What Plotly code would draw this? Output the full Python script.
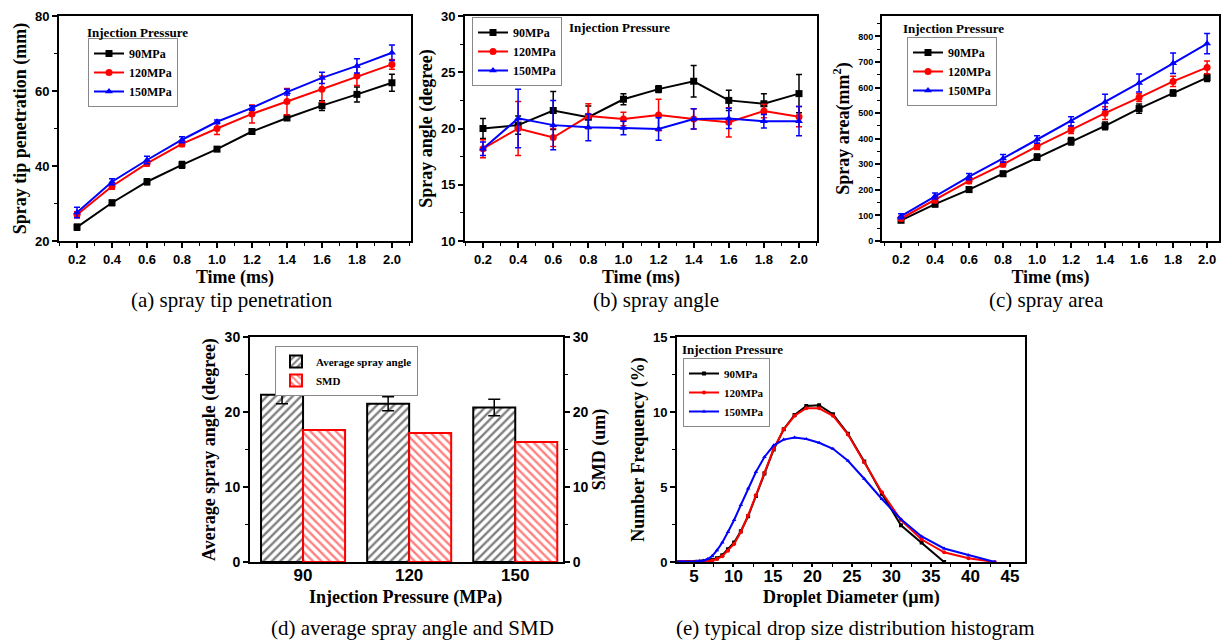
import plotly.graph_objects as go

# ---------------- data ----------------
time_ms = [0.2, 0.4, 0.6, 0.8, 1.0, 1.2, 1.4, 1.6, 1.8, 2.0]
series_names = ["90MPa", "120MPa", "150MPa"]

pen_90 = [23.7, 30.2, 35.8, 40.3, 44.5, 49.2, 52.8, 56.1, 59.1, 62.2]
pen_120 = [27.0, 34.6, 40.7, 45.9, 50.0, 53.9, 57.2, 60.5, 64.0, 67.1]
pen_150 = [27.6, 35.8, 41.6, 47.0, 51.8, 55.5, 59.7, 63.5, 66.7, 70.2]
pen_err_90 = [0.8, 0.7, 0.8, 0.9, 0.5, 0.5, 0.6, 1.3, 2.0, 2.3]
pen_err_120 = [0.8, 0.8, 0.7, 0.7, 1.6, 2.4, 3.5, 3.5, 2.5, 1.3]
pen_err_150 = [1.4, 0.8, 1.0, 0.8, 0.5, 0.6, 0.8, 1.5, 1.9, 2.1]

ang_90 = [20.0, 20.3, 21.6, 21.0, 22.6, 23.5, 24.2, 22.5, 22.2, 23.1]
ang_120 = [18.2, 20.0, 19.2, 21.1, 20.85, 21.2, 20.85, 20.55, 21.55, 21.05]
ang_150 = [18.2, 20.9, 20.3, 20.1, 20.05, 19.95, 20.85, 20.9, 20.65, 20.65]
ang_err_90 = [0.9, 0.8, 1.7, 1.0, 0.5, 0.3, 1.4, 0.9, 0.9, 1.7]
ang_err_120 = [0.8, 2.4, 0.8, 1.1, 0.6, 1.4, 0.9, 1.3, 0.6, 0.9]
ang_err_150 = [0.6, 2.6, 2.2, 1.2, 0.6, 1.0, 0.9, 0.9, 0.6, 1.3]

area_90 = [81, 144, 201, 263, 328, 390, 450, 518, 579, 639]
area_120 = [88, 160, 235, 300, 370, 435, 500, 561, 624, 679]
area_150 = [97, 176, 252, 323, 397, 468, 544, 618, 695, 772]
area_err_90 = [8, 10, 10, 10, 12, 15, 15, 18, 12, 15]
area_err_120 = [8, 10, 10, 10, 12, 15, 25, 15, 20, 25]
area_err_150 = [10, 12, 12, 15, 15, 18, 30, 35, 40, 40]

pressure_cats = ["90", "120", "150"]
avg_angle = [22.3, 21.1, 20.6]
avg_angle_err = [1.2, 0.95, 1.1]
smd = [17.6, 17.2, 16.0]

diam = [3.0, 3.26, 3.53, 3.83, 4.15, 4.5, 4.88, 5.29, 5.73, 6.21, 6.73, 7.3, 7.91,
        8.58, 9.3, 10.08, 10.93, 11.85, 12.84, 13.92, 15.09, 16.36, 17.73, 19.22,
        20.84, 22.59, 24.49, 26.55, 28.78, 31.2, 33.82, 36.66, 39.74, 43.08]
freq_90 = [0, 0, 0, 0, 0, 0, 0, 0.01, 0.02, 0.04, 0.08, 0.15, 0.25, 0.45, 0.85, 1.3,
           2.05, 3.05, 4.4, 5.9, 7.5, 8.85, 9.8, 10.4, 10.45, 9.85, 8.55, 6.7, 4.55,
           2.45, 1.3, 0.0]
freq_120 = [0, 0, 0, 0, 0, 0, 0, 0, 0.01, 0.03, 0.05, 0.1, 0.2, 0.38, 0.75, 1.2,
            2.0, 3.1, 4.45, 5.95, 7.55, 8.85, 9.75, 10.25, 10.25, 9.75, 8.5, 6.65,
            4.65, 2.8, 1.5, 0.65, 0.25, 0.0]
freq_150 = [0, 0, 0, 0, 0, 0.01, 0.02, 0.03, 0.06, 0.1, 0.2, 0.4, 0.78, 1.3, 2.0,
            2.8, 3.8, 4.9, 6.0, 7.0, 7.78, 8.16, 8.3, 8.2, 7.95, 7.55, 6.75, 5.55,
            4.2, 2.85, 1.7, 0.9, 0.45, 0.0]

# ---------------- helpers ----------------
W, H = 1221, 640
def fx(p):
    return p / W
def fy(p):
    return 1 - p / H

colors = ["black", "#ff0000", "#0000ff"]
symbols = ["square", "circle", "triangle-up"]
SERIF = "Liberation Serif"
SANS = "Liberation Sans"

fig = go.Figure()

def add_lines(x, ys, errs, xa, ya, leg, msize=7):
    for name, y, e, c, s in zip(series_names, ys, errs, colors, symbols):
        fig.add_trace(go.Scatter(
            x=x, y=y, name=name, mode="lines+markers",
            line=dict(color=c, width=2),
            marker=dict(color=c, symbol=s, size=msize),
            error_y=dict(type="data", array=e, color=c, thickness=1.5, width=3),
            xaxis=xa, yaxis=ya, legend=leg))

add_lines(time_ms, [pen_90, pen_120, pen_150], [pen_err_90, pen_err_120, pen_err_150], "x", "y", "legend")
add_lines(time_ms, [ang_90, ang_120, ang_150], [ang_err_90, ang_err_120, ang_err_150], "x2", "y2", "legend2")
add_lines(time_ms, [area_90, area_120, area_150], [area_err_90, area_err_120, area_err_150], "x3", "y3", "legend3")

# panel e
for name, y, c, s in zip(series_names, [freq_90, freq_120, freq_150], colors, symbols):
    fig.add_trace(go.Scatter(
        x=diam[:len(y)], y=y, name=name, mode="lines+markers",
        line=dict(color=c, width=2), marker=dict(color=c, symbol=s, size=4),
        xaxis="x5", yaxis="y5", legend="legend5"))

# panel d
fig.add_trace(go.Bar(
    x=pressure_cats, y=avg_angle, name="Average spray angle", width=0.396, offset=-0.396,
    marker=dict(color="white", line=dict(color="black", width=2),
                pattern=dict(shape="/", fgcolor="black", bgcolor="white", size=6, solidity=0.4)),
    error_y=dict(type="data", array=avg_angle_err, color="black", thickness=1.5, width=6),
    xaxis="x4", yaxis="y4", legend="legend4"))
fig.add_trace(go.Bar(
    x=pressure_cats, y=smd, name="SMD", width=0.396, offset=0,
    marker=dict(color="white", line=dict(color="#ff0000", width=2),
                pattern=dict(shape="\\", fgcolor="#ff0000", bgcolor="white", size=6, solidity=0.4)),
    xaxis="x4", yaxis="y6", legend="legend4"))

def axis(domain, rng, dtick, minor, tsize, title, tisize, standoff, anchor,
         tick0=None, fmt=None, mirror=True, ticklen=5, **kw):
    d = dict(domain=domain, range=rng, showline=True, linecolor="black",
             linewidth=2, mirror=mirror, ticks="outside", ticklen=ticklen, tickwidth=1.5,
             tickcolor="black", showgrid=False, zeroline=False,
             tickfont=dict(family=SANS, size=tsize, color="black", weight="bold"),
             anchor=anchor, automargin=False)
    if title:
        d["title"] = dict(text=title, font=dict(family=SERIF, size=tisize, color="black", weight="bold"),
                          standoff=standoff)
    if dtick is not None:
        d["dtick"] = dtick
    if minor:
        d["minor"] = dict(dtick=minor, ticklen=3, ticks="outside", tickcolor="black", tickwidth=1)
    if tick0 is not None:
        d["tick0"] = tick0
    if fmt:
        d["tickformat"] = fmt
    d.update(kw)
    return d

layout = dict(
    width=W, height=H, margin=dict(l=0, r=0, t=0, b=0),
    paper_bgcolor="white", plot_bgcolor="white", showlegend=True,
    xaxis=axis([fx(59), fx(411)], [0.097, 2.109], 0.2, 0.1, 13, "Time (ms)", 18, 4, "y", tick0=0.2, fmt=".1f"),
    yaxis=axis([fy(241), fy(16)], [20, 80], 20, 10, 13, "Spray tip penetration (mm)", 18, 4, "x"),
    xaxis2=axis([fx(465), fx(817)], [0.0975, 2.1025], 0.2, 0.1, 13, "Time (ms)", 18, 4, "y2", tick0=0.2, fmt=".1f"),
    yaxis2=axis([fy(241), fy(16)], [10, 30], 5, 2.5, 13, "Spray angle (degree)", 18, 4, "x2"),
    xaxis3=axis([fx(882), fx(1219)], [0.088, 2.07], 0.2, 0.1, 13, "Time (ms)", 18, 4, "y3", tick0=0.2, fmt=".1f"),
    yaxis3=axis([fy(241), fy(16)], [0, 880], 100, 50, 9, "Spray area(mm<sup>2</sup>)", 18, 4, "x3"),
    xaxis4=axis([fx(250), fx(563)], [-0.5, 2.45], None, None, 17, None, 18, 0, "y4",
                type="category", ticklen=0, mirror=True, ticklabelstandoff=-3),
    yaxis4=axis([fy(562), fy(337)], [0, 30], 10, 5, 14, "Average spray angle (degree)", 18, 4, "x4",
                mirror=False),
    yaxis6=axis([fy(562), fy(337)], [0, 30], 10, 5, 14, "SMD (um)", 18, 4, "x4",
                overlaying="y4", side="right", mirror=False),
    xaxis5=axis([fx(677), fx(1025)], [2.85, 46.9], 5, 2.5, 17, None, 18, 0, "y5",
                tick0=0, ticklen=3, ticklabelstandoff=-5),
    yaxis5=axis([fy(562), fy(337)], [0, 15], 5, 2.5, 13, "Number Frequency (%)", 18, 4, "x5"),
)

def legend(x, y, size=12):
    return dict(x=fx(x), y=fy(y), xanchor="left", yanchor="top", bgcolor="white",
                bordercolor="#888888", borderwidth=1, itemwidth=30,
                font=dict(family=SERIF, size=size, color="black", weight="bold"),
                tracegroupgap=0)

layout["legend"] = legend(88, 38)
layout["legend2"] = legend(472, 17)
layout["legend3"] = legend(907, 37)
layout["legend4"] = legend(275, 346, 11)
layout["legend5"] = legend(683, 358, 11)

fig.update_layout(**layout)

ann = []
def text(x, y, s, size, bold=True, xanchor="left"):
    ann.append(dict(x=fx(x), y=fy(y), xref="paper", yref="paper", text=s, showarrow=False,
                    xanchor=xanchor, yanchor="middle",
                    font=dict(family=SERIF, size=size, color="black", weight="bold" if bold else "normal")))

text(85, 33, "Injection Pressure", 13)
text(567, 28, "Injection Pressure", 13)
text(901, 29, "Injection Pressure", 13)
text(680, 349, "Injection Pressure", 13)

# x-axis titles of the lower panels
text(406, 597, "Injection Pressure (MPa)", 18, xanchor="center")
text(851, 597, "Droplet Diameter (µm)", 18, xanchor="center")

text(232, 300, "(a) spray tip penetration", 21, bold=False, xanchor="center")
text(656, 300, "(b) spray angle", 21, bold=False, xanchor="center")
text(1046, 300, "(c) spray area", 21, bold=False, xanchor="center")
text(412, 628, "(d) average spray angle and SMD", 21, bold=False, xanchor="center")
text(855, 628, "(e) typical drop size distribution histogram", 21, bold=False, xanchor="center")

fig.update_layout(annotations=ann)
fig.write_html("out.html")
